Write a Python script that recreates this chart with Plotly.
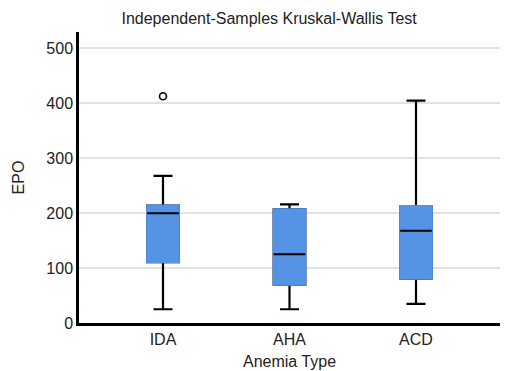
import plotly.graph_objects as go

categories = ["IDA", "AHA", "ACD"]
lower_whisker = [25, 25, 35]
q1 = [111, 70, 81]
median = [200, 125, 168]
q3 = [214, 207, 213]
upper_whisker = [268, 216, 405]
outlier_cats = ["IDA"]
outlier_vals = [413]

BLUE = "#5593E5"
BW = 0.25

fig = go.Figure()
# whiskers + outline in black
fig.add_trace(go.Box(
    x=categories, q1=q1, median=median, q3=q3,
    lowerfence=lower_whisker, upperfence=upper_whisker,
    width=BW, whiskerwidth=0.6, boxpoints=False,
    fillcolor=BLUE, line=dict(color="black", width=2.2),
    showlegend=False, hoverinfo="skip"))
# blue box body on top (covers black outline)
fig.add_trace(go.Box(
    x=categories, q1=q1, median=q1, q3=q3,
    lowerfence=q1, upperfence=q3,
    width=BW, whiskerwidth=0, boxpoints=False,
    fillcolor=BLUE, line=dict(color=BLUE, width=2.2),
    showlegend=False, hoverinfo="skip"))
# median line in black
fig.add_trace(go.Box(
    x=categories, q1=median, median=median, q3=median,
    lowerfence=median, upperfence=median,
    width=BW, whiskerwidth=0, boxpoints=False,
    fillcolor="black", line=dict(color="black", width=2),
    showlegend=False, hoverinfo="skip"))
# outlier
fig.add_trace(go.Scatter(
    x=outlier_cats, y=outlier_vals, mode="markers",
    marker=dict(symbol="circle-open", size=7, color="black", line=dict(width=1.6)),
    showlegend=False, hoverinfo="skip"))

FONT = "Liberation Sans, Arial, sans-serif"
fig.update_layout(
    width=507, height=363,
    margin=dict(l=71, r=15, t=24, b=48),
    paper_bgcolor="white", plot_bgcolor="white",
    boxmode="overlay",
    font=dict(family=FONT, size=16, color="#222222"),
    title=dict(text="Independent-Samples Kruskal-Wallis Test",
               x=0.515, xref="container", xanchor="center",
               y=0.972, yref="container", yanchor="middle",
               font=dict(size=16, color="#222222")),
    xaxis=dict(
        type="category", categoryorder="array", categoryarray=categories,
        range=[-0.664, 2.664], automargin=False,
        showline=True, linecolor="black", linewidth=2.5,
        showgrid=False, ticks="", zeroline=False,
        title=dict(text="Anemia Type", standoff=9, font=dict(size=16)),
        tickfont=dict(size=16)),
    yaxis=dict(
        range=[0, 530], tickvals=[0, 100, 200, 300, 400, 500], automargin=False,
        showline=True, linecolor="black", linewidth=2.5,
        showgrid=True, gridcolor="#E2E2E2", gridwidth=1.5,
        zeroline=False, ticks="",
        title=dict(text="EPO", standoff=18, font=dict(size=16)),
        tickfont=dict(size=16)),
)
fig.write_html("out.html")
